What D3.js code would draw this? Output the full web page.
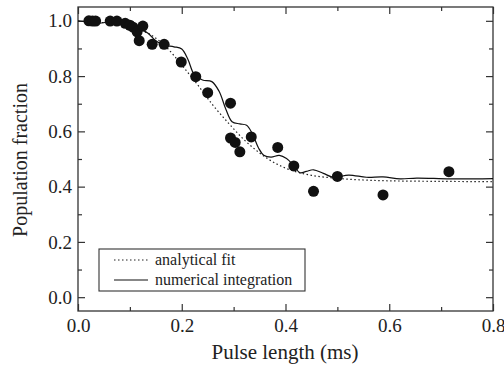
<!DOCTYPE html>
<html>
<head>
<meta charset="utf-8">
<script src="https://cdn.jsdelivr.net/npm/d3@7"></script>
<style>
  body { margin: 0; background: #fff; }
</style>
</head>
<body>
<script>
// measured points
const pulseMs = [0.021, 0.028, 0.034, 0.062, 0.075, 0.091, 0.100, 0.106, 0.114, 0.125,
  0.118, 0.143, 0.166, 0.199, 0.227, 0.250, 0.294, 0.294, 0.303, 0.312,
  0.334, 0.385, 0.416, 0.454, 0.500, 0.588, 0.715];
const fraction = [1.000, 0.999, 0.999, 0.999, 0.999, 0.991, 0.984, 0.977, 0.960, 0.981,
  0.928, 0.915, 0.915, 0.851, 0.798, 0.740, 0.702, 0.576, 0.560, 0.526,
  0.580, 0.542, 0.475, 0.383, 0.437, 0.370, 0.454];

// analytical fit (dotted)
const fitX = [0, 0.04, 0.08, 0.11, 0.14, 0.17, 0.20, 0.23, 0.26, 0.29, 0.32, 0.35, 0.38, 0.41, 0.45, 0.50, 0.55, 0.60, 0.70, 0.80];
const fitY = [0.998, 0.995, 0.985, 0.972, 0.950, 0.905, 0.840, 0.770, 0.695, 0.630, 0.570, 0.522, 0.485, 0.460, 0.441, 0.430, 0.424, 0.421, 0.419, 0.418];

// numerical integration (solid)
const numX = [0, 0.020, 0.040, 0.065, 0.085, 0.100, 0.120, 0.135, 0.150, 0.165, 0.185, 0.200, 0.212, 0.224,
  0.240, 0.258, 0.272, 0.285, 0.297, 0.312, 0.325, 0.336, 0.348, 0.358, 0.372, 0.388, 0.402, 0.415,
  0.428, 0.440, 0.454, 0.473, 0.492, 0.522, 0.556, 0.588, 0.621, 0.653, 0.717, 0.800];
const numY = [1.000, 0.996, 0.992, 0.996, 0.990, 0.983, 0.970, 0.955, 0.928, 0.912, 0.906, 0.898, 0.860, 0.806,
  0.786, 0.780, 0.745, 0.680, 0.635, 0.627, 0.622, 0.592, 0.540, 0.514, 0.507, 0.513, 0.502, 0.478,
  0.450, 0.455, 0.461, 0.448, 0.434, 0.442, 0.434, 0.435, 0.428, 0.431, 0.428, 0.429];

const xMajor = [0, 0.2, 0.4, 0.6, 0.8];
const xMinor = [0.1, 0.3, 0.5, 0.7];
const yMajor = [0, 0.2, 0.4, 0.6, 0.8, 1.0];
const yMinor = [0.1, 0.3, 0.5, 0.7, 0.9];

const w = 504, h = 366;
const padL = 78, padR = 493, padT = 7, padB = 311;
const FONT = 'Liberation Serif';

const x = d3.scaleLinear().domain([0, 0.8]).range([padL, padR]);
const y = d3.scaleLinear().domain([-0.05, 1.05]).range([padB, padT]);

const svg = d3.select('body').append('svg')
  .attr('width', w)
  .attr('height', h)
  .attr('font-family', FONT);

const fmt = d3.format('.1f');

function styleAxis(g) {
  g.attr('font-family', FONT);
  g.select('.domain').remove();
  g.selectAll('line').attr('stroke', '#333').attr('stroke-width', 1.2);
  g.selectAll('text').attr('font-size', 19).attr('fill', '#222').attr('font-family', FONT);
}

// bottom
svg.append('g').attr('transform', 'translate(0,' + padB + ')')
  .call(d3.axisBottom(x).tickValues(xMajor).tickFormat(fmt).tickSize(-7).tickPadding(8))
  .call(styleAxis);
svg.append('g').attr('transform', 'translate(0,' + padB + ')')
  .call(d3.axisBottom(x).tickValues(xMinor).tickFormat('').tickSize(-4))
  .call(styleAxis);
// top
svg.append('g').attr('transform', 'translate(0,' + padT + ')')
  .call(d3.axisTop(x).tickValues(xMajor).tickFormat('').tickSize(-7))
  .call(styleAxis);
svg.append('g').attr('transform', 'translate(0,' + padT + ')')
  .call(d3.axisTop(x).tickValues(xMinor).tickFormat('').tickSize(-4))
  .call(styleAxis);
// left
svg.append('g').attr('transform', 'translate(' + padL + ',0)')
  .call(d3.axisLeft(y).tickValues(yMajor).tickFormat(fmt).tickSize(-7).tickPadding(6))
  .call(styleAxis);
svg.append('g').attr('transform', 'translate(' + padL + ',0)')
  .call(d3.axisLeft(y).tickValues(yMinor).tickFormat('').tickSize(-4))
  .call(styleAxis);
// right
svg.append('g').attr('transform', 'translate(' + padR + ',0)')
  .call(d3.axisRight(y).tickValues(yMajor).tickFormat('').tickSize(-7))
  .call(styleAxis);
svg.append('g').attr('transform', 'translate(' + padR + ',0)')
  .call(d3.axisRight(y).tickValues(yMinor).tickFormat('').tickSize(-4))
  .call(styleAxis);

// frame
svg.append('rect')
  .attr('x', padL).attr('y', padT)
  .attr('width', padR - padL).attr('height', padB - padT)
  .attr('fill', 'none').attr('stroke', '#333').attr('stroke-width', 1.3);

const fitData = fitX.map((d, i) => [d, fitY[i]]);
const numData = numX.map((d, i) => [d, numY[i]]);

const line = d3.line()
  .x(d => x(d[0]))
  .y(d => y(d[1]))
  .curve(d3.curveCatmullRom.alpha(0.5));

svg.append('path')
  .datum(fitData)
  .attr('d', line)
  .attr('fill', 'none')
  .attr('stroke', '#222')
  .attr('stroke-width', 1.2)
  .attr('stroke-dasharray', '1.5,2.5');

svg.append('path')
  .datum(numData)
  .attr('d', line)
  .attr('fill', 'none')
  .attr('stroke', '#111')
  .attr('stroke-width', 1.2);

svg.selectAll('circle.pt')
  .data(pulseMs)
  .enter()
  .append('circle')
  .attr('class', 'pt')
  .attr('cx', d => x(d))
  .attr('cy', (d, i) => y(fraction[i]))
  .attr('r', 5.5)
  .attr('fill', '#111');

// legend
const lg = svg.append('g');
lg.append('rect')
  .attr('x', 99).attr('y', 249)
  .attr('width', 206).attr('height', 42)
  .attr('fill', '#fff').attr('stroke', '#333').attr('stroke-width', 1.1);
lg.append('line')
  .attr('x1', 114).attr('x2', 148).attr('y1', 260).attr('y2', 260)
  .attr('stroke', '#222').attr('stroke-width', 1.2).attr('stroke-dasharray', '1.5,2.5');
lg.append('line')
  .attr('x1', 114).attr('x2', 148).attr('y1', 280).attr('y2', 280)
  .attr('stroke', '#111').attr('stroke-width', 1.2);
lg.append('text').attr('x', 155).attr('y', 265).attr('font-size', 16).attr('font-family', FONT).attr('fill', '#222').text('analytical fit');
lg.append('text').attr('x', 155).attr('y', 285).attr('font-size', 16).attr('font-family', FONT).attr('fill', '#222').text('numerical integration');

// axis titles
svg.append('text')
  .attr('x', 285).attr('y', 359)
  .attr('text-anchor', 'middle')
  .attr('font-size', 21)
  .attr('font-family', FONT)
  .attr('fill', '#222')
  .text('Pulse length (ms)');

svg.append('text')
  .attr('transform', 'translate(27,160) rotate(-90)')
  .attr('text-anchor', 'middle')
  .attr('font-size', 20)
  .attr('font-family', FONT)
  .attr('fill', '#222')
  .text('Population fraction');
</script>
</body>
</html>
